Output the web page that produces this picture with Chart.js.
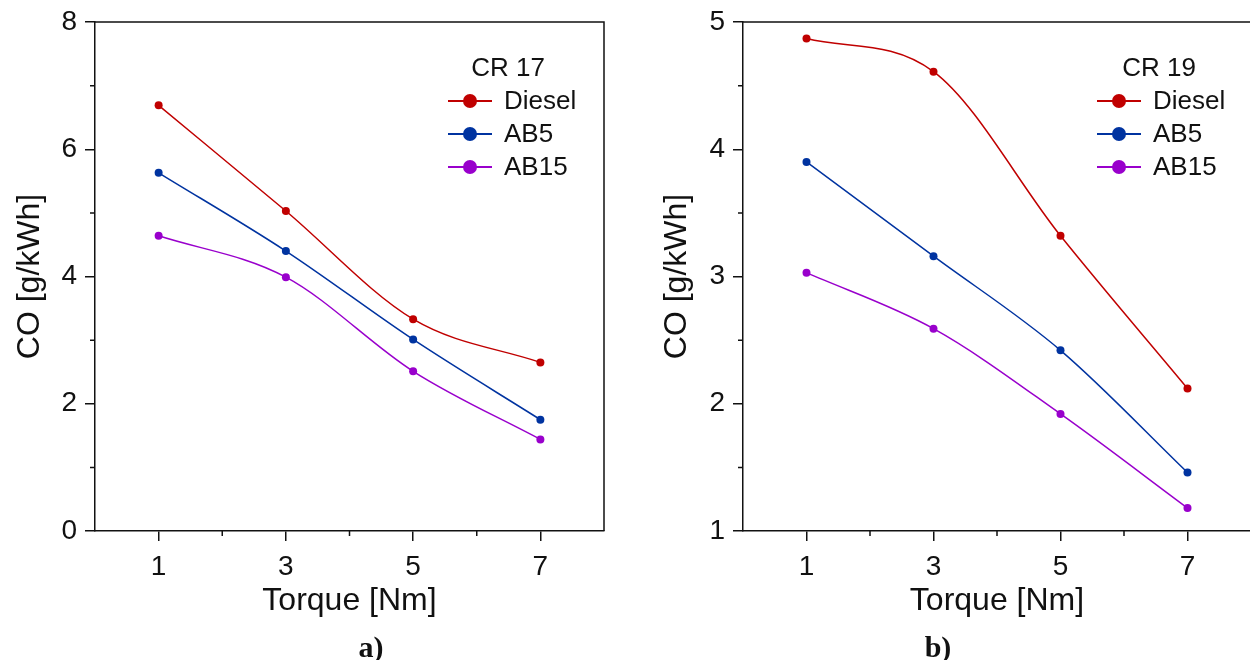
<!DOCTYPE html>
<html>
<head>
<meta charset="utf-8">
<script src="https://cdn.jsdelivr.net/npm/chart.js@4.4.1/dist/chart.umd.min.js"></script>
<style>
  body { margin: 0; width: 1250px; height: 660px; overflow: hidden; background: #fff; position: relative; }
  #wrapA { position: absolute; left: 0; top: 0; width: 625px; height: 660px; }
  #wrapB { position: absolute; left: 625px; top: 0; width: 630px; height: 660px; }
  .lbl { position: absolute; top: 630px; width: 100px; text-align: center; color: #111; line-height: 30px;
         font: bold 30px "Liberation Serif", "Times New Roman", serif; }
</style>
</head>
<body>
<div id="wrapA"><canvas id="chartA" width="625" height="660"></canvas></div>
<div id="wrapB"><canvas id="chartB" width="630" height="660"></canvas></div>
<div class="lbl" style="left:321px">a)</div>
<div class="lbl" style="left:888px">b)</div>
<script>
const torque = [1, 3, 5, 7];
const seriesNames = ["Diesel", "AB5", "AB15"];
const seriesColors = ["#c00000", "#0033a0", "#9900cc"];

// CR 17
const cr17Diesel = [6.69, 5.03, 3.33, 2.65];
const cr17AB5 = [5.63, 4.40, 3.01, 1.75];
const cr17AB15 = [4.64, 3.99, 2.51, 1.44];

// CR 19
const cr19Diesel = [4.87, 4.61, 3.32, 2.12];
const cr19AB5 = [3.90, 3.16, 2.42, 1.46];
const cr19AB15 = [3.03, 2.59, 1.92, 1.18];

const xTicks = [1, 3, 5, 7];
const xMinor = [2, 4, 6];
const yMinorA = [1, 3, 5, 7];
const yMinorB = [1.5, 2.5, 3.5, 4.5];

const FONT = '"Liberation Sans", Arial, sans-serif';
const INK = "#111";

// box, minor ticks and the inside legend
const frame = {
  id: "frame",
  afterDraw(chart, args, opts) {
    const ctx = chart.ctx, a = chart.chartArea;
    const xs = chart.scales.x, ys = chart.scales.y;
    ctx.save();
    ctx.strokeStyle = INK;
    ctx.lineWidth = 1.5;
    ctx.beginPath();
    ctx.moveTo(a.left, a.top);
    ctx.lineTo(a.right, a.top);
    ctx.lineTo(a.right, a.bottom);
    opts.xMinor.forEach(v => {
      const px = xs.getPixelForValue(v);
      ctx.moveTo(px, a.bottom);
      ctx.lineTo(px, a.bottom + 5);
    });
    opts.yMinor.forEach(v => {
      const py = ys.getPixelForValue(v);
      ctx.moveTo(a.left, py);
      ctx.lineTo(a.left - 5, py);
    });
    ctx.stroke();

    // legend
    const lg = opts.legend;
    ctx.font = "26px " + FONT;
    ctx.fillStyle = INK;
    ctx.textBaseline = "middle";
    ctx.textAlign = "center";
    ctx.fillText(lg.title, lg.titleX, 69);
    ctx.textAlign = "left";
    chart.data.datasets.forEach((ds, i) => {
      const y = 101 + i * 33;
      ctx.strokeStyle = ds.borderColor;
      ctx.lineWidth = 2;
      ctx.beginPath();
      ctx.moveTo(lg.x0, y);
      ctx.lineTo(lg.x0 + 44, y);
      ctx.stroke();
      ctx.fillStyle = ds.borderColor;
      ctx.beginPath();
      ctx.arc(lg.x0 + 22, y, 7, 0, Math.PI * 2);
      ctx.fill();
      ctx.fillStyle = INK;
      ctx.fillText(ds.label, lg.textX, y + 1);
    });
    ctx.restore();
  }
};

function makeDatasets(lists) {
  return lists.map((vals, i) => ({
    label: seriesNames[i],
    data: torque.map((t, j) => ({ x: t, y: vals[j] })),
    borderColor: seriesColors[i],
    backgroundColor: seriesColors[i],
    borderWidth: 1.5,
    pointRadius: 4,
    pointHoverRadius: 4,
    pointBorderWidth: 0,
    cubicInterpolationMode: "monotone"
  }));
}

function makeChart(id, lists, yMin, yMax, yStep, cfg) {
  return new Chart(document.getElementById(id), {
    type: "line",
    data: { datasets: makeDatasets(lists) },
    plugins: [frame],
    options: {
      responsive: false,
      animation: false,
      devicePixelRatio: 1,
      layout: { padding: { left: 0, right: cfg.padRight, top: 22, bottom: 0 } },
      plugins: {
        legend: { display: false },
        tooltip: { enabled: false },
        frame: { xMinor: xMinor, yMinor: cfg.yMinor, legend: cfg.legend }
      },
      scales: {
        x: {
          type: "linear",
          min: 0,
          max: 8,
          afterBuildTicks: s => { s.ticks = xTicks.map(v => ({ value: v })); },
          afterFit: s => { s.height = 129; s.paddingLeft = 0; s.paddingRight = 0; },
          ticks: { color: INK, font: { family: FONT, size: 28 }, padding: 9 },
          grid: { drawOnChartArea: false, drawTicks: true, tickLength: 10, color: INK, lineWidth: 1.5 },
          border: { display: true, color: INK, width: 1.5 },
          title: { display: true, text: "Torque [Nm]", color: INK,
                   font: { family: FONT, size: 32 }, padding: { top: 0, bottom: 40 } }
        },
        y: {
          min: yMin,
          max: yMax,
          afterFit: s => { s.width = cfg.yWidth; s.paddingTop = 0; s.paddingBottom = 0; },
          ticks: { stepSize: yStep, color: INK, font: { family: FONT, size: 28 }, padding: 8 },
          grid: { drawOnChartArea: false, drawTicks: true, tickLength: 10, color: INK, lineWidth: 1.5 },
          border: { display: true, color: INK, width: 1.5 },
          title: { display: true, text: "CO [g/kWh]", color: INK,
                   font: { family: FONT, size: 32 }, padding: { top: cfg.yTitlePad, bottom: 0 } }
        }
      }
    }
  });
}

makeChart("chartA", [cr17Diesel, cr17AB5, cr17AB15], 0, 8, 2, {
  padRight: 21, yWidth: 95, yTitlePad: 11, yMinor: yMinorA,
  legend: { title: "CR 17", titleX: 508, x0: 448, textX: 504 }
});

makeChart("chartB", [cr19Diesel, cr19AB5, cr19AB15], 1, 5, 1, {
  padRight: 4, yWidth: 118, yTitlePad: 33, yMinor: yMinorB,
  legend: { title: "CR 19", titleX: 534, x0: 472, textX: 528 }
});
</script>
</body>
</html>
